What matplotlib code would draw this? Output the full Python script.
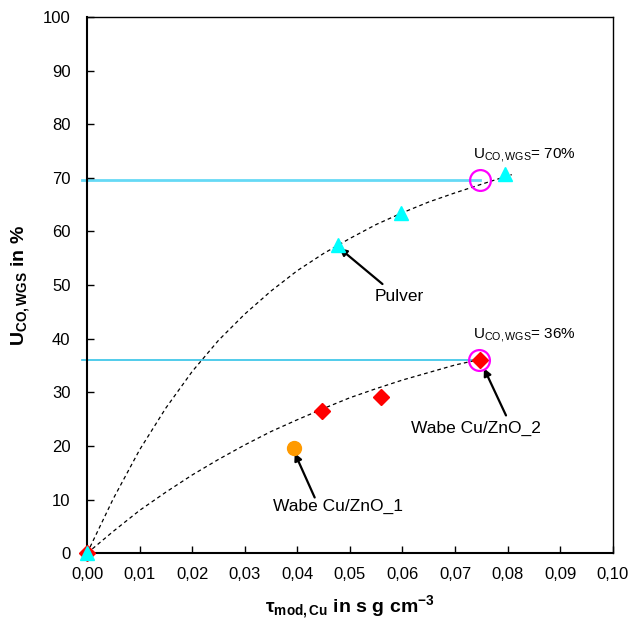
import numpy as np
import matplotlib.pyplot as plt

plt.rcParams['font.family'] = ['Liberation Sans', 'DejaVu Sans']
plt.rcParams['mathtext.fontset'] = 'custom'
plt.rcParams['mathtext.rm'] = 'Liberation Sans'
plt.rcParams['mathtext.it'] = 'Liberation Sans'
plt.rcParams['mathtext.bf'] = 'Liberation Sans:bold'

# measured points
pulver_x = [0.0, 0.0477, 0.0597, 0.0795]
pulver_y = [0.0, 57.5, 63.4, 70.7]
wabe2_x = [0.0, 0.0447, 0.0560, 0.0748]
wabe2_y = [0.0, 26.5, 29.2, 36.1]
wabe1_x = [0.0393]
wabe1_y = [19.6]
# marked conversions (circles + horizontal lines)
mark_x = [0.0747, 0.0746]
mark_y = [69.6, 36.1]

# dashed trend curves
curve_x = [0.0, 0.005, 0.01, 0.015, 0.02, 0.025, 0.03, 0.035, 0.04,
           0.045, 0.05, 0.055, 0.06, 0.065, 0.07, 0.075, 0.0808]
curve_pulver = [0.0, 10.2, 19.3, 27.1, 33.9, 39.7, 44.6, 48.9, 52.7,
                55.9, 58.7, 61.3, 63.5, 65.5, 67.2, 68.8, 70.6]
curve_wabe_x = curve_x[:16]
curve_wabe = [0.0, 4.1, 8.0, 11.4, 14.6, 17.5, 20.2, 22.7, 24.9,
              27.0, 29.0, 30.7, 32.3, 33.7, 35.1, 36.2]

fig = plt.figure(figsize=(6.31, 6.28), dpi=100)
ax = fig.add_axes([0.138, 0.119, 0.833, 0.854])

ax.plot(curve_x, curve_pulver, color='black', lw=0.9, dashes=(3, 2.5), zorder=2)
ax.plot(curve_wabe_x, curve_wabe, color='black', lw=0.9, dashes=(3, 2.5), zorder=2)

ax.plot([-0.001, mark_x[0]], [mark_y[0], mark_y[0]], color='#66D9F5', lw=2, zorder=1, clip_on=False)
ax.plot([-0.001, mark_x[1]], [mark_y[1], mark_y[1]], color='#33C4E8', lw=1.2, zorder=1, clip_on=False)

ax.plot(wabe2_x, wabe2_y, 'D', color='#FF0000', ms=8, ls='none', zorder=3, clip_on=False)
ax.plot(pulver_x, pulver_y, '^', color='#00FFFF', ms=10, ls='none', zorder=4, clip_on=False)
ax.plot(wabe1_x, wabe1_y, 'o', color='#FF9A00', ms=10, ls='none', zorder=4)
ax.plot(mark_x, mark_y, 'o', mfc='none', mec='#FF00FF', mew=1.6, ms=15, ls='none', zorder=5)

ax.text(0.0734, 74.3, r'U$_{\mathrm{CO,WGS}}$= 70%', fontsize=11, va='center', ha='left')
ax.text(0.0734, 40.7, r'U$_{\mathrm{CO,WGS}}$= 36%', fontsize=11, va='center', ha='left')

arrow = dict(arrowstyle='-|>', color='black', lw=1.6, mutation_scale=11, shrinkA=0, shrinkB=0)
ax.text(0.0548, 47.8, 'Pulver', fontsize=12.5, va='center', ha='left')
ax.annotate('', xy=(0.0480, 56.9), xytext=(0.0562, 50.2), arrowprops=arrow)
ax.text(0.0617, 23.3, 'Wabe Cu/ZnO_2', fontsize=12.5, va='center', ha='left')
ax.annotate('', xy=(0.0755, 34.5), xytext=(0.0797, 25.7), arrowprops=arrow)
ax.text(0.0353, 8.8, 'Wabe Cu/ZnO_1', fontsize=12.5, va='center', ha='left')
ax.annotate('', xy=(0.0395, 18.7), xytext=(0.0433, 10.4), arrowprops=arrow)

ax.set_xlim(0, 0.10)
ax.set_ylim(0, 100)
ax.set_xticks(np.arange(0, 0.1001, 0.01))
ax.set_yticks(np.arange(0, 101, 10))
ax.set_xticklabels([('%.2f' % v).replace('.', ',') for v in np.arange(0, 0.1001, 0.01)])
ax.tick_params(direction='in', length=5, width=1, labelsize=12, pad=10)
ax.tick_params(axis='y', pad=12)
for s in ax.spines.values():
    s.set_linewidth(1)
ax.spines['left'].set_linewidth(1.5)
ax.spines['bottom'].set_linewidth(1.5)

ax.set_xlabel(r'$\mathbf{\tau_{mod,Cu}}$ in s g cm$^{\mathbf{-3}}$', fontsize=14, fontweight='bold', labelpad=8)
ax.set_ylabel(r'$\mathbf{U_{CO,WGS}}$ in %', fontsize=14, fontweight='bold', labelpad=8)

plt.savefig('out.png', dpi=100)
